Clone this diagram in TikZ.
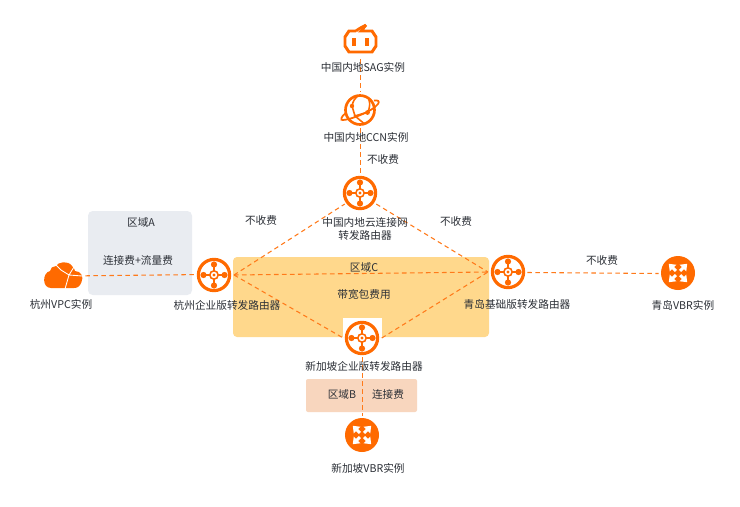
\documentclass[tikz,border=0pt]{standalone}
\usepackage{fontspec}
\setmainfont{Noto Sans CJK SC}
\definecolor{org}{HTML}{FF6A00}
\definecolor{lnc}{HTML}{FF7A1A}
\definecolor{txt}{HTML}{2B2F36}
\definecolor{rega}{HTML}{E9ECF1}
\definecolor{regc}{HTML}{FFD88C}
\definecolor{regb}{HTML}{F8D6BE}
\tikzset{
  x=0.75pt,y=-0.75pt,
  lbl/.style={font=\fontsize{8pt}{10pt}\selectfont,text=txt,inner sep=0pt,align=center},
  conn/.style={draw=lnc,line width=0.8pt,dash pattern=on 3.4pt off 2.6pt},
  anchorpt/.style={circle,inner sep=0pt,minimum size=28.5pt},
  router/.pic={
    \draw[org,line width=2.4pt] (0,0) circle (15.6);
    \draw[org,line width=1.9pt] (-10.5,0)--(10.5,0) (0,-10.5)--(0,10.5);
    \foreach \a/\b in {-10.5/0,10.5/0,0/-10.5,0/10.5} \fill[org] (\a,\b) circle (3.1);
    \fill[org] (0,0) circle (5);
    \fill[white] (0,0) circle (3.2);
    \fill[org] (0,0) circle (1.6);
  },
  vbr/.pic={
    \fill[org] (0,0) circle (17);
    \foreach \r in {45,135,225,315}{
      \begin{scope}[rotate=\r]
        \fill[white] (3,-1.5)--(7,-1.5)--(7,-4.7)--(13,0)--(7,4.7)--(7,1.5)--(3,1.5)--cycle;
      \end{scope}
    }
  }
}
\begin{document}
\begin{tikzpicture}
\useasboundingbox (0,0) rectangle (740,507);
\fill[white] (0,0) rectangle (740,507);
% regions
\fill[rega,rounded corners=3.5pt] (88,211) rectangle (192,295);
\fill[regc,rounded corners=3pt] (233,257) rectangle (489,337);
\fill[regb,rounded corners=1.5pt] (306,379) rectangle (417,412);
\fill[white] (343,318) rectangle (382,337);
% named end points
\node[anchorpt] (hz) at (214,274.6) {};
\node[anchorpt] (qd) at (508,272.5) {};
\node[anchorpt] (cn) at (360.5,193) {};
\node[anchorpt] (sg) at (362.5,338) {};
\node[anchorpt] (qv) at (678,273.5) {};
\node[anchorpt] (sv) at (362.5,435) {};
\node[inner sep=0pt,minimum width=33pt,minimum height=22pt] (vpc) at (63,275.8) {};
\node[inner sep=0pt,minimum size=27pt] (sag) at (360.5,41) {};
\node[inner sep=0pt,minimum size=27pt] (ccn) at (360.5,110) {};
\coordinate (hzp) at (234,275);
\coordinate (qdp) at (488,272);
% connectors
\draw[conn] (vpc.east) -- (hz.west);
\draw[conn] (hzp) -- (cn.215);
\draw[conn] (cn.325) -- (qdp);
\draw[conn] (hzp) -- (qdp);
\draw[conn] (hzp) -- (sg.west);
\draw[conn] (sg.east) -- (qdp);
\draw[conn] (qd.east) -- (qv.west);
\draw[conn] (sag.south) -- (ccn.north);
\draw[conn] (ccn.south) -- (cn.north);
\draw[conn] (sg.south) -- (sv.north);
% icons
\pic at (214,275) {router};
\pic at (508,272) {router};
\pic at (360,193) {router};
\pic at (362,338) {router};
\pic at (678,273) {vbr};
\pic at (362,435) {vbr};
% cloud
\fill[org] (51,288) .. controls (42,288) and (42,273) .. (50,271)
  .. controls (50,268) and (53,266) .. (56,266)
  .. controls (58,262) and (68,260) .. (72,266)
  .. controls (74,268) and (75,270) .. (75,271)
  .. controls (81,271) and (84,277) .. (81.5,282)
  .. controls (80,286) and (78,288) .. (74,288) -- cycle;
\draw[white,line width=0.65pt] (56,265)--(61,270)--(69,275)--(74,267) (69,275)--(82,276) (69,275)--(65,289);
% sag
\draw[org,line width=2.2pt,line join=miter] (356,31)--(349,31)--(345,37)--(345,46)--(349,52)--(372,52)--(376,46)--(376,37)--(372,31)--(361,31)--(366,25);
\draw[org,line width=2pt] (356,31) .. controls (358,29) and (362,27) .. (366,25);
\draw[org,line width=2.4pt] (354,38)--(354,46) (367,38)--(367,46);
% ccn
\draw[org,line width=2pt] (360,110) circle (14.5);
\draw[org,line width=1.3pt] (343,120) .. controls (349,120) and (372,112) .. (378,104) .. controls (380,101) and (378,100) .. (374,100.5);
\draw[org,line width=1.3pt] (343,120) .. controls (340,121) and (341,116) .. (346,113);
\draw[org,line width=1.2pt] (352,106) -- (355,116) -- (364,123.5) (352,106) .. controls (353,101) and (355,98) .. (358,96) (355,116) -- (368,112) .. controls (370,107) and (370,103) .. (369,100);
\fill[org] (352,106) circle (2.2) (367.5,112.5) circle (2.4) (355,116) circle (1.7);
% labels
\node[lbl] at (363,67) {中国内地SAG实例};
\node[lbl] at (366,137) {中国内地CCN实例};
\node[lbl] at (383,159) {不收费};
\node[lbl] at (365,229) {中国内地云连接网\\转发路由器};
\node[lbl] at (261,220) {不收费};
\node[lbl] at (456,221) {不收费};
\node[lbl] at (141,222) {区域A};
\node[lbl] at (138,260) {连接费+流量费};
\node[lbl] at (61,304) {杭州VPC实例};
\node[lbl] at (227,305) {杭州企业版转发路由器};
\node[lbl] at (364,267) {区域C};
\node[lbl] at (364,294) {带宽包费用};
\node[lbl] at (517,304) {青岛基础版转发路由器};
\node[lbl] at (602,260) {不收费};
\node[lbl] at (683,305) {青岛VBR实例};
\node[lbl] at (364,366) {新加坡企业版转发路由器};
\node[lbl] at (342,394) {区域B};
\node[lbl] at (388,394) {连接费};
\node[lbl] at (368,468) {新加坡VBR实例};
\end{tikzpicture}
\end{document}
